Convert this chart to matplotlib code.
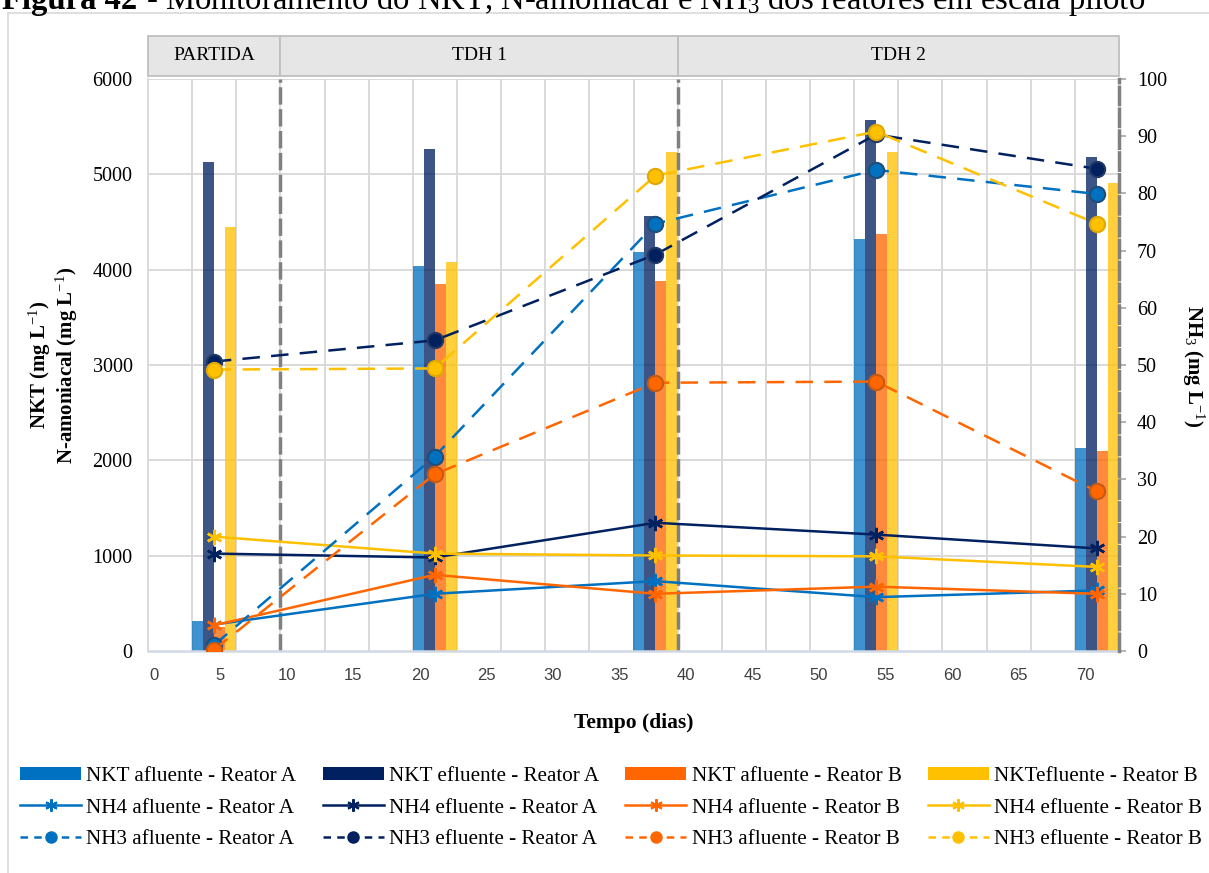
import matplotlib
matplotlib.use("Agg")
import matplotlib.pyplot as plt
from matplotlib.patches import Rectangle, Patch
from matplotlib.lines import Line2D
import numpy as np

# ---- data -------------------------------------------------------------
dias = [4.5, 21.1, 37.7, 54.3, 70.9]

# NKT (mg/L) - bars
nkt_af_A = [310, 4040, 4190, 4320, 2130]
nkt_ef_A = [5130, 5265, 4560, 5575, 5180]
nkt_af_B = [250, 3850, 3880, 4370, 2100]
nkt_ef_B = [4450, 4080, 5230, 5230, 4910]

# NH4 (mg/L) - solid lines, left axis
nh4_af_A = [277, 600, 733, 565, 635]
nh4_ef_A = [1022, 981, 1345, 1221, 1076]
nh4_af_B = [269, 799, 600, 675, 600]
nh4_ef_B = [1200, 1022, 1002, 993, 882]

# NH3 (mg/L) - dashed lines, right axis
nh3_af_A = [1.0, 34.0, 74.7, 84.1, 79.9]
nh3_ef_A = [50.6, 54.3, 69.3, 90.3, 84.3]
nh3_af_B = [0.2, 30.9, 46.9, 47.1, 27.9]
nh3_ef_B = [49.2, 49.4, 83.1, 90.8, 74.7]

fases = ["PARTIDA", "TDH 1", "TDH 2"]
limites_fase = [-0.45, 9.5, 39.4, 72.56]

x_ticks = list(range(0, 75, 5))
y_ticks_nkt = list(range(0, 7000, 1000))
y_ticks_nh3 = list(range(0, 110, 10))

# ---- style ------------------------------------------------------------
SERIF = "Liberation Serif"
plt.rcParams["font.family"] = [SERIF, "DejaVu Serif"]
plt.rcParams["mathtext.fontset"] = "custom"
plt.rcParams["mathtext.rm"] = SERIF
plt.rcParams["mathtext.it"] = SERIF + ":italic"
plt.rcParams["mathtext.bf"] = SERIF + ":bold"

AZUL = "#0070c0"
MARINHO = "#002060"
LARANJA = "#ff6600"
AMARELO = "#ffc000"
GRID = "#d9d9d9"
CINZA = "#808080"

W, H = 1209, 873
fig = plt.figure(figsize=(W / 100, H / 100), dpi=100)

# outer chart-area border (left and top visible)
fig.add_artist(Line2D([8 / W, 8 / W], [0, 1 - 13 / H], color=GRID, lw=1.2,
                      transform=fig.transFigure))
fig.add_artist(Line2D([8 / W, 1], [1 - 13 / H, 1 - 13 / H], color=GRID, lw=1.2,
                      transform=fig.transFigure))

# caption line at the very top of the page
t1 = fig.text(0.002, 1 - 9.5 / H, "Figura 42", fontsize=23.5, fontweight="bold",
              va="baseline", ha="left")
fig.canvas.draw()
r = fig.canvas.get_renderer()
bb = t1.get_window_extent(renderer=r)
fig.text(bb.x1 / W, 1 - 9.5 / H,
         " - Monitoramento do NKT, N-amoniacal e NH$_3$ dos reatores em escala piloto",
         fontsize=23.5, va="baseline", ha="left")

L, R, T, B = 148, 1119, 79, 651
ax = fig.add_axes([L / W, 1 - B / H, (R - L) / W, (B - T) / H])
ax.set_xlim(limites_fase[0], limites_fase[-1])
ax.set_ylim(0, 6000)

xmin, xmax = ax.get_xlim()
# category gridlines
for xv in np.linspace(xmin, xmax, 23)[1:-1]:
    ax.axvline(xv, color=GRID, lw=1.4, zorder=0)
for yv in y_ticks_nkt[1:]:
    ax.axhline(yv, color=GRID, lw=1.4, zorder=0)

# bars
cat_w = (xmax - xmin) / 22
bw = cat_w / 4
dias_arr = np.array(dias)
series_bar = [(nkt_af_A, AZUL), (nkt_ef_A, MARINHO), (nkt_af_B, LARANJA), (nkt_ef_B, AMARELO)]
for i, (vals, c) in enumerate(series_bar):
    ax.bar(dias_arr + (i - 1.5) * bw, vals, width=bw, color=c, alpha=0.76,
           linewidth=0, zorder=2)

# phase separators
for xv in limites_fase[1:-1]:
    ax.axvline(xv, color=CINZA, lw=2.5, dashes=(5, 1.3), zorder=2.5)

star = (6, 2, 0)
nh4_series = [(nh4_af_A, AZUL), (nh4_ef_A, MARINHO), (nh4_af_B, LARANJA), (nh4_ef_B, AMARELO)]
for vals, c in nh4_series:
    ax.plot(dias, vals, color=c, lw=1.8, marker=star, markersize=11,
            markeredgewidth=1.8, markeredgecolor=c, zorder=3)

ax.set_xticks(x_ticks)
ax.set_xticklabels([str(v) for v in x_ticks], fontsize=12,
                   family=["Liberation Sans Narrow", "Liberation Sans", "DejaVu Sans"])
ax.tick_params(axis="x", length=0, pad=12, colors="#404040")
ax.set_yticks(y_ticks_nkt)
ax.set_yticklabels([str(v) for v in y_ticks_nkt], fontsize=14.5)
ax.tick_params(axis="y", length=0, pad=11)
for s in ("top", "right"):
    ax.spines[s].set_visible(False)
ax.spines["left"].set_color(GRID)
ax.spines["left"].set_linewidth(1.4)
ax.spines["bottom"].set_color("#d0d9e6")
ax.spines["bottom"].set_linewidth(1.8)

# right axis: NH3
ax2 = ax.twinx()
ax2.set_ylim(0, 100)
nh3_series = [(nh3_af_A, AZUL, "#1f4e79"), (nh3_ef_A, MARINHO, "#1f3864"),
              (nh3_af_B, LARANJA, "#c55a11"), (nh3_ef_B, AMARELO, "#e0a800")]
for vals, c, ec in nh3_series:
    ax2.plot(dias, vals, color=c, lw=1.8, dashes=(7, 4.5), marker="o",
             markersize=11, markerfacecolor=c, markeredgecolor=ec,
             markeredgewidth=1.5, zorder=4)
ax2.set_yticks(y_ticks_nh3)
ax2.set_yticklabels([str(v) for v in y_ticks_nh3], fontsize=14.5)
ax2.tick_params(axis="y", length=5, width=1.2, color="#a6a6a6", pad=8)
for s in ("top", "left", "bottom"):
    ax2.spines[s].set_visible(False)
ax2.spines["right"].set_color(CINZA)
ax2.spines["right"].set_linewidth(2.5)
ax2.spines["right"].set_linestyle((0, (5, 1.3)))

# axis titles
fig.text(40 / W, 1 - 365 / H, "NKT (mg L$^{-1}$)", rotation=90, fontsize=15,
         fontweight="bold", ha="center", va="center")
fig.text(67 / W, 1 - 365 / H, "N-amoniacal (mg L$^{-1}$)", rotation=90, fontsize=15,
         fontweight="bold", ha="center", va="center")
fig.text(1193 / W, 1 - 366 / H, "NH$_3$ (mg L$^{-1}$)", rotation=-90, fontsize=15,
         fontweight="bold", ha="center", va="center")
fig.text((L + R) / 2 / W, 1 - 723 / H, "Tempo (dias)", fontsize=15.5,
         fontweight="bold", ha="center", va="center")

# phase header band
axb = fig.add_axes([L / W, 1 - 76 / H, (R - L) / W, 40 / H])
axb.set_xlim(xmin, xmax)
axb.set_ylim(0, 1)
axb.axis("off")
for nome, a, b in zip(fases, limites_fase[:-1], limites_fase[1:]):
    axb.add_patch(Rectangle((a, 0), b - a, 1, facecolor="#e6e6e6",
                            edgecolor="#bfbfbf", lw=1.3, clip_on=False))
    axb.text((a + b) / 2, 0.5, nome, ha="center", va="center", fontsize=14)

# legend
def bar_h(c):
    return Patch(facecolor=c, edgecolor="none")

def nh4_h(c):
    return Line2D([], [], color=c, lw=1.8, marker=star, markersize=9,
                  markeredgewidth=1.5, markeredgecolor=c)

def nh3_h(c):
    return Line2D([], [], color=c, lw=1.8, dashes=(3, 2.5), marker="o",
                  markersize=8, markerfacecolor=c, markeredgecolor=c)

cols = [(AZUL, "afluente - Reator A"), (MARINHO, "efluente - Reator A"),
        (LARANJA, "afluente - Reator B"), (AMARELO, "efluente - Reator B")]
handles, labels = [], []
for i, (c, suf) in enumerate(cols):
    handles += [bar_h(c), nh4_h(c), nh3_h(c)]
    nkt_lab = "NKTefluente - Reator B" if i == 3 else "NKT " + suf
    labels += [nkt_lab, "NH4 " + suf, "NH3 " + suf]

fig.legend(handles, labels, ncol=4, loc="upper left",
           bbox_to_anchor=(20 / W, 1 - 767 / H, 1182 / W, 0), mode="expand",
           frameon=False, fontsize=15.2, handlelength=2.9, handleheight=0.6,
           handletextpad=0.25, labelspacing=0.58, borderaxespad=0, borderpad=0)

fig.savefig("out.png", dpi=100)
